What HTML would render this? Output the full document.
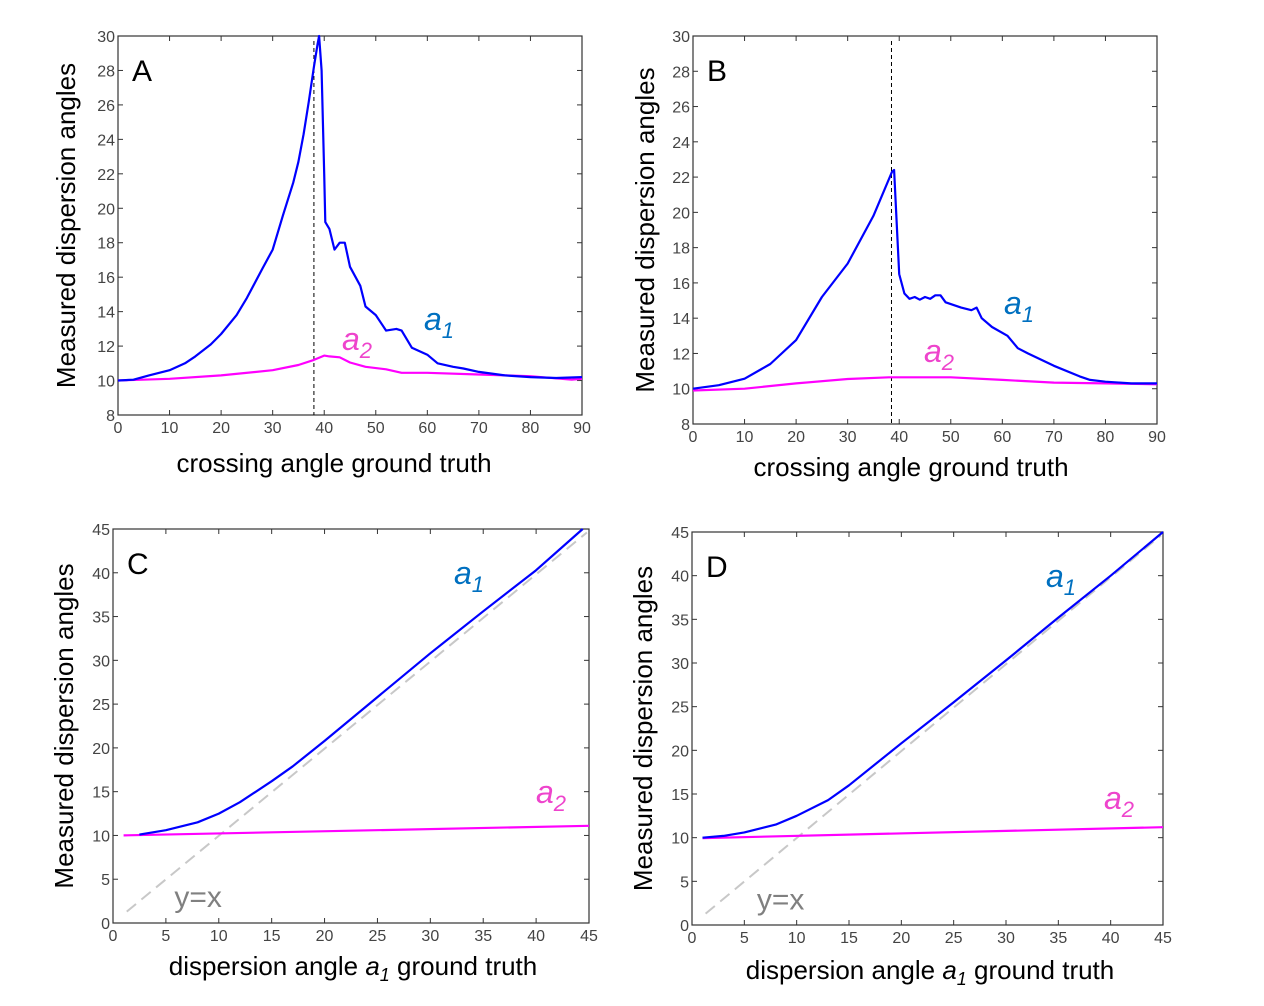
<!DOCTYPE html>
<html><head><meta charset="utf-8"><style>
body{margin:0;background:#fff;}
svg{display:block;font-family:"Liberation Sans",sans-serif;}
</style></head><body>
<svg id="fig" width="1264" height="1006" viewBox="0 0 1264 1006" xmlns="http://www.w3.org/2000/svg"></svg>
<script>
// Panel A data
const aX1=[0,3,6,10,13,15,18,20,23,25,28,30,32,34,35,36,37,38,38.7,39,39.5,40,40.2,41,42,43,44,45,47,48,50,52,54,55,57,60,62,65,67,70,75,80,85,90];
const aY1=[10,10.05,10.3,10.6,11,11.4,12.1,12.7,13.8,14.8,16.5,17.6,19.6,21.5,22.7,24.3,26.2,28.2,29.5,30,28,22,19.2,18.8,17.6,18,18,16.6,15.5,14.3,13.8,12.9,13,12.9,11.9,11.5,11,10.8,10.7,10.5,10.3,10.2,10.15,10.2];
const aX2=[0,10,20,30,35,38,40,41,43,45,48,52,55,60,70,80,88,90];
const aY2=[10,10.1,10.3,10.6,10.9,11.2,11.45,11.4,11.35,11.05,10.8,10.65,10.45,10.45,10.35,10.25,10.05,10.1];
// Panel B data
const bX1=[0,5,10,15,20,25,30,35,38.6,39,39.5,40,41,42,43,44,45,46,47,48,49,52,54,55,56,58,61,63,65,70,75,77,80,85,90];
const bY1=[10,10.2,10.57,11.4,12.76,15.2,17.1,19.8,22.3,22.4,19.5,16.5,15.4,15.1,15.2,15.05,15.2,15.1,15.3,15.3,14.9,14.6,14.45,14.6,14.0,13.5,13.0,12.3,12.0,11.3,10.7,10.5,10.4,10.3,10.3];
const bX2=[0,10,20,30,38,50,60,70,80,90];
const bY2=[9.9,10.0,10.3,10.55,10.65,10.65,10.5,10.35,10.3,10.25];
// Panel C data
const cX1=[2.5,5,8,10,12,15,17,20,25,30,35,40,44.4];
const cY1=[10.1,10.6,11.5,12.5,13.8,16.2,17.9,20.8,25.8,30.8,35.6,40.3,45];
const cX2=[1,45];
const cY2=[10,11.1];
// Panel D data
const dX1=[1,3,5,8,10,13,15,20,25,30,35,40,45];
const dY1=[10,10.2,10.6,11.5,12.5,14.3,16,20.8,25.5,30.3,35.2,40,45];
const dX2=[1,45];
const dY2=[9.95,11.2];
const ticksA_x=[0,10,20,30,40,50,60,70,80,90];
const ticksA_y=[8,10,12,14,16,18,20,22,24,26,28,30];
const ticksC=[0,5,10,15,20,25,30,35,40,45];

const NS="http://www.w3.org/2000/svg";
const svg=document.getElementById('fig');
function el(tag,attrs,parent,text){const e=document.createElementNS(NS,tag);for(const k in attrs)e.setAttribute(k,attrs[k]);if(text!==undefined)e.textContent=text;(parent||svg).appendChild(e);return e;}

function panel(p){
  const g=el('g',{});
  
  
  const sx=v=>p.L+(v-p.xmin)/(p.xmax-p.xmin)*(p.R-p.L);
  const sy=v=>p.B-(v-p.ymin)/(p.ymax-p.ymin)*(p.B-p.T);
  const box=el('rect',{x:p.L,y:p.T,width:p.R-p.L,height:p.B-p.T,fill:'none',stroke:'#333','stroke-width':1.2},g);
  
  
  p.xt.forEach(v=>{const x=sx(v);
    el('line',{x1:x,x2:x,y1:p.B,y2:p.B-5,stroke:'#333'},g);
    el('line',{x1:x,x2:x,y1:p.T,y2:p.T+5,stroke:'#333'},g);
    const t=el('text',{x:x,y:p.B+18,'text-anchor':'middle','font-size':16,fill:'#444'},g,v);
    
    
  });
  p.yt.forEach(v=>{const y=sy(v);
    el('line',{x1:p.L,x2:p.L+5,y1:y,y2:y,stroke:'#333'},g);
    el('line',{x1:p.R,x2:p.R-5,y1:y,y2:y,stroke:'#333'},g);
    const t=el('text',{x:p.L-3,y:y+6,'text-anchor':'end','font-size':16,fill:'#444'},g,v);
    
    
  });
  if(p.vline!==undefined){const vl=el('line',{x1:sx(p.vline),x2:sx(p.vline),y1:p.T+5,y2:p.B,stroke:'#000','stroke-dasharray':'4,3'},g);
    
    }
  if(p.diag){const d=el('line',{x1:sx(1.3),y1:sy(1.3),x2:sx(44.8),y2:sy(44.6),stroke:'#c8c8c8','stroke-width':2,'stroke-dasharray':'12,7'},g);
    
    
    const yx=el('text',{x:sx(p.yxX),y:sy(1.8),'font-size':30,fill:'#808080'},g,'y=x');
    
    }
  const line=(xs,ys,c,name)=>{const d=xs.map((x,i)=>(i?'L':'M')+sx(x).toFixed(1)+','+sy(ys[i]).toFixed(1)).join('');
    const pa=el('path',{d:d,fill:'none',stroke:c,'stroke-width':2.2,'stroke-linejoin':'round'},g);
    
    };
  line(p.sx2,p.sy2,'#ff00ff','series-a2');
  line(p.sx1,p.sy1,'#0000ff','series-a1');
  const lt=el('text',{x:p.L+14,y:p.T+45,'font-size':30,fill:'#000'},g,p.id);
  
  
  const l1=el('text',{x:p.a1[0],y:p.a1[1],'font-size':32,fill:'#0070c0','font-style':'italic'},g);
  
  
  el('tspan',{},l1,'a');el('tspan',{'font-size':22,dy:8},l1,'1');
  const l2=el('text',{x:p.a2[0],y:p.a2[1],'font-size':32,fill:'#ee44cc','font-style':'italic'},g);
  
  
  el('tspan',{},l2,'a');el('tspan',{'font-size':22,dy:8},l2,'2');
  const cy=(p.T+p.B)/2;
  const yt=el('text',{x:p.ytx,y:cy,'font-size':26,fill:'#000','text-anchor':'middle',transform:`rotate(-90 ${p.ytx} ${cy})`},g,'Measured dispersion angles');
  
  
  const xt=el('text',{x:p.xtx,y:p.xty,'font-size':26,fill:'#000','text-anchor':'middle'},g);
  
  
  if(p.xtitleSub){el('tspan',{},xt,'dispersion angle ');el('tspan',{'font-style':'italic'},xt,'a');el('tspan',{'font-size':18,dy:6,'font-style':'italic'},xt,'1');el('tspan',{dy:-6},xt,' ground truth');}
  else xt.textContent='crossing angle ground truth';
}
panel({id:'A',L:118,R:582,T:36,B:415,xmin:0,xmax:90,ymin:8,ymax:30,xt:ticksA_x,yt:ticksA_y,sx1:aX1,sy1:aY1,sx2:aX2,sy2:aY2,vline:38,a1:[424,330],a2:[342,350],ytx:75,xtx:334,xty:472});
panel({id:'B',L:693,R:1157,T:36,B:424,xmin:0,xmax:90,ymin:8,ymax:30,xt:ticksA_x,yt:ticksA_y,sx1:bX1,sy1:bY1,sx2:bX2,sy2:bY2,vline:38.5,a1:[1004,314],a2:[924,362],ytx:654,xtx:911,xty:476});
panel({id:'C',L:113,R:589,T:529,B:923,xmin:0,xmax:45,ymin:0,ymax:45,xt:ticksC,yt:ticksC,sx1:cX1,sy1:cY1,sx2:cX2,sy2:cY2,diag:true,yxX:5.8,a1:[454,584],a2:[536,803],ytx:73,xtx:353,xty:975,xtitleSub:true});
panel({id:'D',L:692,R:1163,T:532,B:925,xmin:0,xmax:45,ymin:0,ymax:45,xt:ticksC,yt:ticksC,sx1:dX1,sy1:dY1,sx2:dX2,sy2:dY2,diag:true,yxX:6.2,a1:[1046,587],a2:[1104,809],ytx:652,xtx:930,xty:979,xtitleSub:true});
</script>
</body></html>
